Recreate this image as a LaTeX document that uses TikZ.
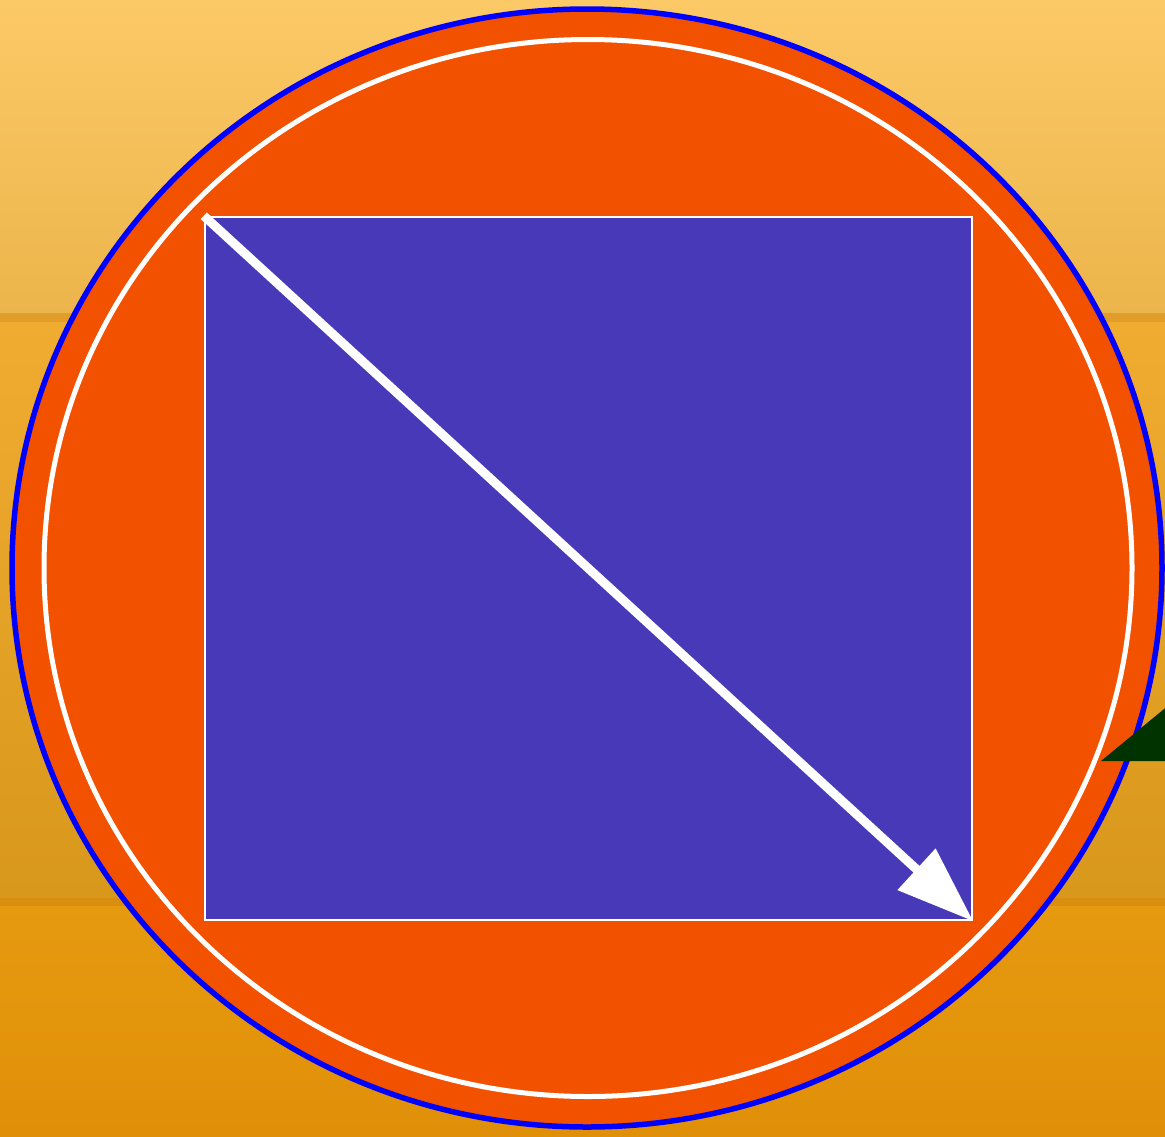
\documentclass[tikz,border=0pt]{standalone}
\usetikzlibrary{arrows.meta,shapes.geometric}

\definecolor{skyTop}{HTML}{FCC967}
\definecolor{skyLow}{HTML}{ECB54B}
\definecolor{midTop}{HTML}{F0AC30}
\definecolor{midLow}{HTML}{D8981C}
\definecolor{lowTop}{HTML}{E69A10}
\definecolor{lowLow}{HTML}{E09008}
\definecolor{seam}{HTML}{E29C2A}
\definecolor{seamLow}{HTML}{DA8E10}
\definecolor{discFill}{HTML}{F25100}
\definecolor{boxFill}{HTML}{4739B7}
\definecolor{wedgeGreen}{HTML}{003300}

\begin{document}
\begin{tikzpicture}[
    x=1pt, y=-1pt,
    disc/.style={ellipse, draw=blue, line width=5.5pt, fill=discFill, minimum width=1150pt, minimum height=1118pt, inner sep=0pt},
    ring/.style={ellipse, draw=white, line width=5pt, minimum width=1088pt, minimum height=1057pt, inner sep=0pt},
    panel/.style={draw=white, line width=2.5pt, fill=boxFill, minimum width=767pt, minimum height=703pt, inner sep=0pt},
    arrow/.style={-{Triangle[length=77pt, width=54pt]}, line width=9pt, white}
]
\useasboundingbox (0,0) rectangle (1165,1136);

% Background bands
\shade[top color=skyTop, bottom color=skyLow] (0,0) rectangle (1165,313);
\fill[seam] (0,313) rectangle (1165,322);
\shade[top color=midTop, bottom color=midLow] (0,322) rectangle (1165,898);
\fill[seamLow] (0,898) rectangle (1165,906);
\shade[top color=lowTop, bottom color=lowLow] (0,906) rectangle (1165,1136);

% Disc and panel
\node[disc] (disc) at (587,568) {};
\node[ring] (ring) at (588,568) {};
\node[panel] (panel) at (588.5,568.5) {};

% Diagonal arrow
\draw[arrow] (panel.north west) -- (panel.south east);

% Green wedge
\fill[wedgeGreen] (1101,761) -- (1175,700) -- (1175,761) -- cycle;

\end{tikzpicture}
\end{document}
